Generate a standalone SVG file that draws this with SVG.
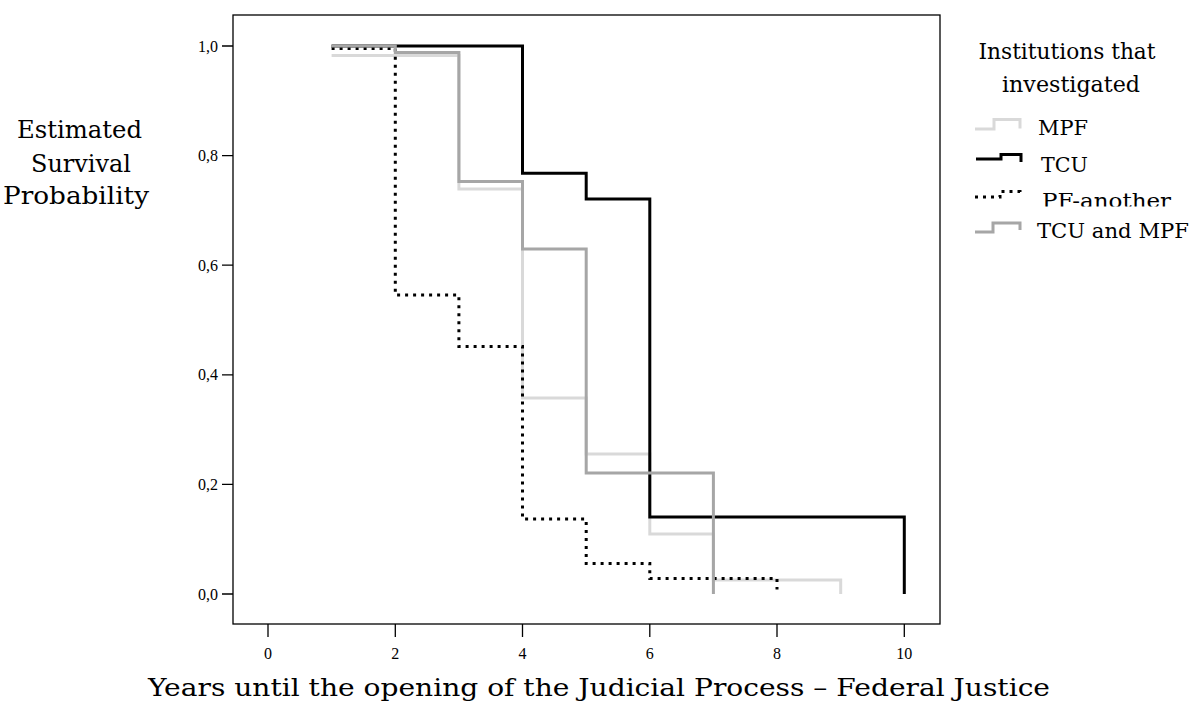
<svg xmlns="http://www.w3.org/2000/svg" width="1192" height="702" viewBox="0 0 1192 702">
<defs>
<style>
.lbl{font-family:"DejaVu Serif","Liberation Serif",serif;fill:#000}
.tk{font-family:"Liberation Serif",serif;font-size:16px;fill:#000}
.ax{stroke:#000;stroke-width:1.3;fill:none}
.c{fill:none;stroke-width:3;stroke-linejoin:miter;stroke-linecap:butt}
.mpf{stroke:#d9d9d9}
.tcu{stroke:#000}
.pf{stroke:#000;stroke-dasharray:3 5}
.tm{stroke:#a6a6a6}
</style>
<clipPath id="pfclip"><rect x="1030" y="180" width="160" height="26.5"/></clipPath>
</defs>
<rect width="1192" height="702" fill="#fff"/>

<g id="axes">
<rect x="233" y="15" width="707" height="609" class="ax"/>
<path class="ax" d="M222,594H233M222,484.4H233M222,374.8H233M222,265.2H233M222,155.6H233M222,46H233"/>
<path class="ax" d="M268,624V637M395.3,624V637M522.5,624V637M649.8,624V637M777,624V637M904.3,624V637"/>
<g class="tk" text-anchor="end">
<text x="218" y="599.5">0,0</text>
<text x="218" y="489.9">0,2</text>
<text x="218" y="380.3">0,4</text>
<text x="218" y="270.7">0,6</text>
<text x="218" y="161.1">0,8</text>
<text x="218" y="51.5">1,0</text>
</g>
<g class="tk" text-anchor="middle">
<text x="268" y="659">0</text>
<text x="395.3" y="659">2</text>
<text x="522.5" y="659">4</text>
<text x="649.8" y="659">6</text>
<text x="777" y="659">8</text>
<text x="904.3" y="659">10</text>
</g>
</g>

<g id="y-title" class="lbl" font-size="24">
<text x="17" y="137.5" textLength="125" lengthAdjust="spacingAndGlyphs">Estimated</text>
<text x="31" y="172" textLength="100" lengthAdjust="spacingAndGlyphs">Survival</text>
<text x="3" y="204" textLength="146" lengthAdjust="spacingAndGlyphs">Probability</text>
</g>

<g id="x-title" class="lbl" font-size="25">
<text x="148" y="696" textLength="902" lengthAdjust="spacingAndGlyphs">Years until the opening of the Judicial Process – Federal Justice</text>
</g>

<g id="connectors">
<path id="curve-mpf" class="c mpf" d="M331.6,55.5H458.9V189H522.5V398H586.2V454H649.8V534H713.4V580H840.7V594"/>
<path id="curve-tcu" class="c tcu" d="M331.6,46H522.5V173.3H586.2V199H649.8V517H904.3V594"/>
<path id="curve-pf" class="c pf" d="M331.6,48.5H395.3V295H458.9V346.5H522.5V519H586.2V563.5H649.8V578.5H777V589.5"/>
<path id="curve-tcumpf" class="c tm" d="M331.6,46H395.3V52.5H458.9V181.5H522.5V249H586.2V473H713.4V594"/>
</g>

<g id="legend">
<g class="lbl" font-size="22" text-anchor="middle">
<text x="1067" y="59" textLength="177" lengthAdjust="spacingAndGlyphs">Institutions that</text>
<text x="1071" y="91.5" textLength="138" lengthAdjust="spacingAndGlyphs">investigated</text>
</g>
<g id="leg-mpf">
<path class="c mpf" d="M975,129H994V119.5H1020V128.5"/>
<text class="lbl" font-size="21" x="1038" y="135" textLength="50" lengthAdjust="spacingAndGlyphs">MPF</text>
</g>
<g id="leg-tcu">
<path class="c tcu" d="M976,159H1001V154.5H1021V162"/>
<text class="lbl" font-size="21" x="1041" y="171.5" textLength="47" lengthAdjust="spacingAndGlyphs">TCU</text>
</g>
<g id="leg-pf">
<path class="c pf" d="M975,197H1000V191.5H1020V196"/>
<text class="lbl" font-size="21" x="1042" y="208" textLength="129" lengthAdjust="spacingAndGlyphs" clip-path="url(#pfclip)">PF-another</text>
</g>
<g id="leg-tcumpf">
<path class="c tm" d="M975,232H993V223H1020V230"/>
<text class="lbl" font-size="21" x="1037" y="238" textLength="152" lengthAdjust="spacingAndGlyphs">TCU and MPF</text>
</g>
</g>
</svg>
